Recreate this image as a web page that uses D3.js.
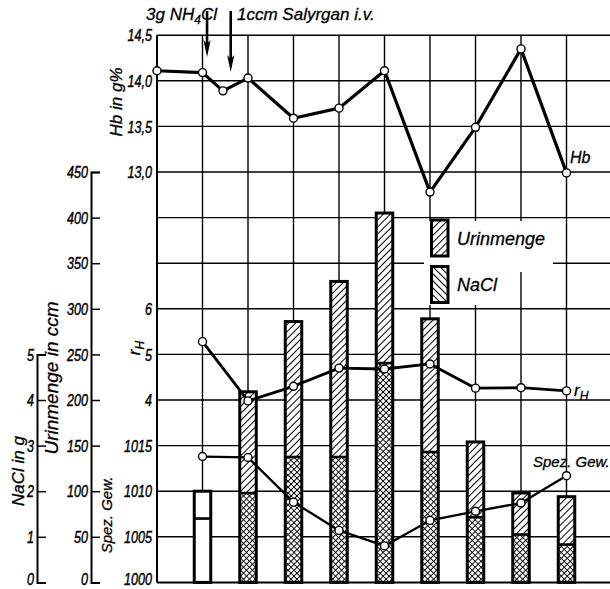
<!DOCTYPE html>
<html>
<head>
<meta charset="utf-8">
<script src="https://cdn.jsdelivr.net/npm/d3@7"></script>
<style>
body { margin: 0; background: #fff; }
svg text { font-family: "Liberation Sans", Arial, sans-serif; font-style: italic; fill: #000; stroke: #000; stroke-width: 0.3px; }
.tick text { font-size: 17px; stroke-width: 0.45px; }
</style>
</head>
<body>
<div id="chart"></div>
<script>
// Values
var hbDays = [0, 1, 1.45, 2, 3, 4, 5, 6, 7, 8, 9];
var hbValues = [14.11, 14.09, 13.89, 14.03, 13.59, 13.70, 14.11, 12.78, 13.49, 14.35, 12.99];
var barDays = [1, 2, 3, 4, 5, 6, 7, 8, 9];
var urinmenge = [100, 209, 286, 330, 405, 289, 154, 98, 94];
var naclValues = [1.4, 1.96, 2.75, 2.75, 4.81, 2.86, 1.43, 1.05, 0.83];
var rhValues = [5.28, 3.98, 4.30, 4.70, 4.68, 4.79, 4.26, 4.27, 4.20];
var spezGew = [1013.8, 1013.7, 1008.8, 1005.7, 1004.0, 1006.8, 1007.8, 1008.7, 1011.7];
var arrowDays = [1.1, 1.62];

// Tick labels
var hbTicks = [13.0, 13.5, 14.0, 14.5];
var rhTicks = [4, 5, 6];
var spezTicks = [1000, 1005, 1010, 1015];
var urinTicks = [0, 50, 100, 150, 200, 250, 300, 350, 400, 450];
var naclTicks = [0, 1, 2, 3, 4, 5];

// SVG area
var svgWidth = 610;
var svgHeight = 589;
var gridTop = 35.2;
var row = 45.6;
var gridBottom = gridTop + 12 * row;

var svg = d3.select("#chart")
    .append("svg")
    .attr("width", svgWidth)
    .attr("height", svgHeight);

// Step 1: scales (one grid, several value axes)
var x = d3.scaleLinear().domain([0, 10]).range([157, 612]);
var yRow = d3.scaleLinear().domain([0, 12]).range([gridTop, gridBottom]);
var yHb = d3.scaleLinear().domain([13, 14.5]).range([yRow(3), yRow(0)]);
var yRh = d3.scaleLinear().domain([4, 6]).range([yRow(8), yRow(6)]);
var ySpez = d3.scaleLinear().domain([1000, 1015]).range([yRow(12), yRow(9)]);
var yUrin = d3.scaleLinear().domain([0, 450]).range([yRow(12), yRow(3)]);
var yNacl = d3.scaleLinear().domain([0, 5]).range([yRow(12), yRow(7)]);

// Step 2: hatch patterns
var defs = svg.append("defs");
var hatch = defs.append("pattern")
    .attr("id", "hatch")
    .attr("patternUnits", "userSpaceOnUse")
    .attr("width", 5).attr("height", 5)
    .attr("patternTransform", "rotate(45)");
hatch.append("rect").attr("width", 5).attr("height", 5).attr("fill", "#fff");
hatch.append("path").attr("d", "M2.5,0V5").attr("stroke", "#000").attr("stroke-width", 1);

var hatchBack = defs.append("pattern")
    .attr("id", "hatchBack")
    .attr("patternUnits", "userSpaceOnUse")
    .attr("width", 5).attr("height", 5)
    .attr("patternTransform", "rotate(-45)");
hatchBack.append("rect").attr("width", 5).attr("height", 5).attr("fill", "#fff");
hatchBack.append("path").attr("d", "M2.5,0V5").attr("stroke", "#000").attr("stroke-width", 1);

var cross = defs.append("pattern")
    .attr("id", "cross")
    .attr("patternUnits", "userSpaceOnUse")
    .attr("width", 4.2).attr("height", 4.2)
    .attr("patternTransform", "rotate(45)");
cross.append("rect").attr("width", 4.2).attr("height", 4.2).attr("fill", "#fff");
cross.append("path").attr("d", "M2.1,0V4.2M0,2.1H4.2").attr("stroke", "#000").attr("stroke-width", 1);

// Step 3: grid
svg.append("g").selectAll("line")
    .data(d3.range(13))
    .enter()
    .append("line")
    .attr("x1", x(0)).attr("x2", svgWidth)
    .attr("y1", d => yRow(d)).attr("y2", d => yRow(d))
    .attr("stroke", "#000")
    .attr("stroke-width", d => d === 12 ? 2 : 1.4);

svg.append("g").selectAll("line")
    .data(d3.range(0, 10))
    .enter()
    .append("line")
    .attr("x1", d => x(d)).attr("x2", d => x(d))
    .attr("y1", gridTop).attr("y2", gridBottom)
    .attr("stroke", "#000")
    .attr("stroke-width", d => d === 0 ? 2 : 1.4);

// blank area behind the legend
svg.append("rect").attr("x", 424).attr("y", 221).attr("width", 129).attr("height", 51).attr("fill", "#fff");
svg.append("rect").attr("x", 424).attr("y", 270).attr("width", 76).attr("height", 35).attr("fill", "#fff");

// Step 4: axes
function deFormat(d) { return d3.format(".1f")(d).replace(".", ","); }
var squeeze = 0.74;

function narrowTicks(g, pad) {
    g.selectAll(".tick text")
        .attr("x", -pad / squeeze)
        .attr("dy", d => (d === 0 || d === 1000) ? "0.15em" : "0.34em")
        .attr("transform", `scale(${squeeze},1)`);
}

function mainAxis(scale, ticks, fmt) {
    var g = svg.append("g")
        .attr("transform", `translate(${x(0)}, 0)`)
        .call(d3.axisLeft(scale).tickValues(ticks).tickSize(0).tickPadding(5).tickFormat(fmt));
    g.select(".domain").remove();
    narrowTicks(g, 5);
}
mainAxis(yHb, hbTicks, deFormat);
mainAxis(yRh, rhTicks, d3.format("d"));
mainAxis(ySpez, spezTicks, d3.format("d"));

function sideAxis(xPos, scale, ticks) {
    var g = svg.append("g")
        .attr("transform", `translate(${xPos}, 0)`)
        .call(d3.axisLeft(scale).tickValues(ticks).tickSize(-9).tickPadding(3).tickFormat(d3.format("d")));
    g.select(".domain").attr("stroke-width", 2);
    g.selectAll(".tick line").attr("stroke-width", 1.5);
    narrowTicks(g, 3);
}
sideAxis(91, yUrin, urinTicks);
sideAxis(37, yNacl, naclTicks);

// Step 5: bars
var bw = 16.5;
var bars = svg.append("g").selectAll("g")
    .data(barDays.map((d, i) => ({day: d, urin: urinmenge[i], nacl: naclValues[i], i: i})))
    .enter()
    .append("g");

bars.append("rect")
    .attr("x", d => x(d.day) - bw / 2)
    .attr("y", d => yUrin(d.urin))
    .attr("width", bw)
    .attr("height", d => yUrin(0) - yUrin(d.urin))
    .attr("fill", d => d.i === 0 ? "#fff" : "url(#hatch)");

bars.append("rect")
    .attr("x", d => x(d.day) - bw / 2)
    .attr("y", d => yNacl(d.nacl))
    .attr("width", bw)
    .attr("height", d => yNacl(0) - yNacl(d.nacl))
    .attr("fill", d => d.i === 0 ? "#fff" : "url(#cross)");

bars.append("line")
    .attr("x1", d => x(d.day) - bw / 2).attr("x2", d => x(d.day) + bw / 2)
    .attr("y1", d => yNacl(d.nacl)).attr("y2", d => yNacl(d.nacl))
    .attr("stroke", "#000").attr("stroke-width", 2.6);

bars.append("rect")
    .attr("x", d => x(d.day) - bw / 2)
    .attr("y", d => yUrin(d.urin))
    .attr("width", bw)
    .attr("height", d => yUrin(0) - yUrin(d.urin))
    .attr("fill", "none")
    .attr("stroke", "#000")
    .attr("stroke-width", 3);

// Step 6: lines and points
function drawSeries(days, values, scale, width) {
    var pts = days.map((d, i) => [x(d), scale(values[i])]);
    svg.append("path")
        .attr("d", d3.line()(pts))
        .attr("fill", "none")
        .attr("stroke", "#000")
        .attr("stroke-width", width)
        .attr("stroke-linejoin", "round");
    svg.append("g").selectAll("circle")
        .data(pts)
        .enter()
        .append("circle")
        .attr("cx", d => d[0])
        .attr("cy", d => d[1])
        .attr("r", 4)
        .attr("fill", "#fff")
        .attr("stroke", "#000")
        .attr("stroke-width", 1.4);
}
drawSeries(hbDays, hbValues, yHb, 3.2);
drawSeries(barDays, rhValues, yRh, 2.8);
drawSeries(barDays, spezGew, ySpez, 2.3);

// Step 7: arrows for the doses
var arrowTips = [57, 72];
arrowDays.forEach(function(d, i) {
    var ax = x(d);
    var tip = arrowTips[i];
    svg.append("line")
        .attr("x1", ax).attr("x2", ax)
        .attr("y1", 11).attr("y2", tip - 8)
        .attr("stroke", "#000").attr("stroke-width", 2.6);
    svg.append("path")
        .attr("d", `M${ax - 3.6},${tip - 17}L${ax},${tip}L${ax + 3.6},${tip - 17}L${ax},${tip - 13}Z`)
        .attr("fill", "#000");
});

// Step 8: legend
var legendItems = [["Urinmenge", "url(#hatch)", 218.5], ["NaCl", "url(#hatchBack)", 265]];
legendItems.forEach(function(item) {
    svg.append("rect")
        .attr("x", 431.5).attr("y", item[2] + 1.5)
        .attr("width", 16.5).attr("height", 36)
        .attr("fill", item[1])
        .attr("stroke", "#000").attr("stroke-width", 3);
    svg.append("text")
        .attr("x", 457).attr("y", item[2] + 26)
        .style("font-size", "18px")
        .text(item[0]);
});

// Step 9: labels
svg.append("text").attr("x", 146).attr("y", 20).style("font-size", "17px")
    .html('3g NH<tspan dy="4" font-size="12px">4</tspan><tspan dy="-4">Cl</tspan>');
svg.append("text").attr("x", 237).attr("y", 20).style("font-size", "17px")
    .text("1ccm Salyrgan i.v.");

function vLabel(cx, cy, size, txt) {
    svg.append("text")
        .attr("transform", `translate(${cx}, ${cy}) rotate(-90)`)
        .attr("text-anchor", "middle")
        .attr("dy", "0.35em")
        .style("font-size", size + "px")
        .html(txt);
}
vLabel(116, 102, 17, "Hb in g%");
vLabel(134, 348, 17, 'r<tspan dy="4" font-size="12px">H</tspan>');
vLabel(107, 515, 15, "Spez. Gew.");
vLabel(51, 378, 19, "Urinmenge in ccm");
vLabel(18, 471, 17, "NaCl in g");

svg.append("text").attr("x", 570).attr("y", 163).style("font-size", "16px").text("Hb");
svg.append("text").attr("x", 574).attr("y", 396).style("font-size", "17px")
    .html('r<tspan dy="4" font-size="12px">H</tspan>');
svg.append("text").attr("x", 533).attr("y", 467).style("font-size", "15px").text("Spez. Gew.");
</script>
</body>
</html>
